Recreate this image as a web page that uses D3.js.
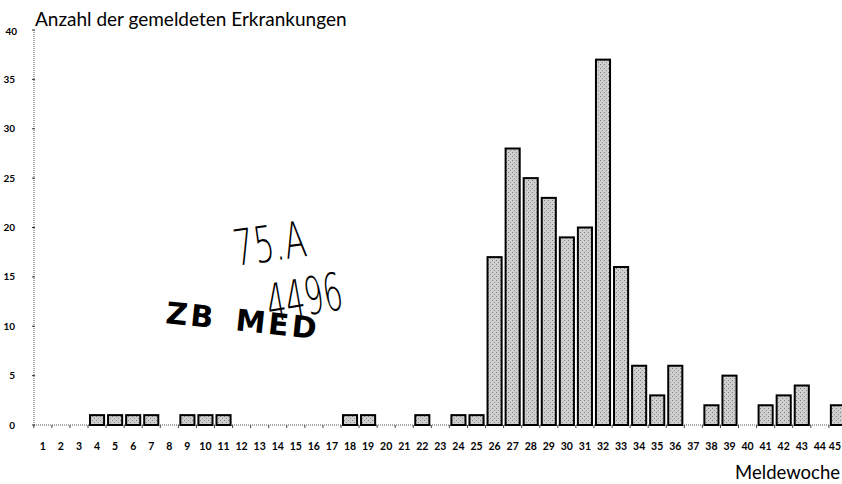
<!DOCTYPE html>
<html><head><meta charset="utf-8">
<script src="https://cdn.jsdelivr.net/npm/d3@7"></script>
<style>body{margin:0;background:#fff}svg{display:block}</style>
</head><body>
<svg id="c" width="842" height="484"></svg>
<script>
const weeks = d3.range(1, 46);
const cases = [0,0,0,1,1,1,1,0,1,1,1,0,0,0,0,0,0,1,1,0,0,1,0,1,1,17,28,25,23,19,20,37,16,6,3,6,0,2,5,0,2,3,4,0,2];
const yTicks = [0,5,10,15,20,25,30,35,40];
const titleText = "Anzahl der gemeldeten Erkrankungen";
const xTitle = "Meldewoche";

const svg = d3.select("#c");
const x0 = 33.8, step = 18.07;
const x = d3.scaleBand().domain(weeks).range([x0, x0 + step*weeks.length]).paddingInner(0.22).paddingOuter(0.11);
const y = d3.scaleLinear().domain([0,40]).range([425,30]);
const font = "Lato, 'Open Sans', sans-serif";

const defs = svg.append("defs");
const pat = defs.append("pattern").attr("id","stip").attr("width",4).attr("height",4).attr("patternUnits","userSpaceOnUse");
pat.append("rect").attr("width",4).attr("height",4).attr("fill","#cfcfcf");
pat.append("rect").attr("x",0).attr("y",0).attr("width",1).attr("height",1).attr("fill","#808080");
pat.append("rect").attr("x",2).attr("y",2).attr("width",1).attr("height",1).attr("fill","#909090");

// axes lines (dotted)
svg.append("line").attr("x1",34).attr("x2",34).attr("y1",y(40)).attr("y2",y(0))
  .attr("stroke","#555").attr("stroke-width",1).attr("stroke-dasharray","1,1");
svg.append("line").attr("x1",34).attr("x2",842).attr("y1",y(0)).attr("y2",y(0))
  .attr("stroke","#555").attr("stroke-width",1).attr("stroke-dasharray","1,1");

// y ticks
const yAxis = svg.append("g");
yTicks.forEach(t=>{
  yAxis.append("line").attr("x1",32).attr("x2",35).attr("y1",y(t)).attr("y2",y(t)).attr("stroke","#333");
  yAxis.append("text").attr("x",t===40?17:15).attr("y",y(t)+(t===40?5:3.5)).attr("text-anchor","end")
    .attr("font-family",font).attr("font-size",10).attr("font-weight","bold").text(t);
});

// x ticks at band boundaries
weeks.forEach(w=>{
  const bx = x(w) - x.step()*x.paddingInner()/2;
  svg.append("line").attr("x1",bx).attr("x2",bx).attr("y1",y(0)).attr("y2",y(0)+3).attr("stroke","#444");
  const cx = x(w)+x.bandwidth()/2;
  const last = w === weeks[weeks.length-1];
  svg.append("text").attr("x",last ? 841 : cx).attr("y",450).attr("text-anchor",last ? "end" : "middle")
    .attr("font-family",font).attr("font-size",10.5).attr("font-weight","bold").text(w);
});

// bars
svg.append("g").selectAll("rect").data(weeks.filter((w,i)=>cases[i]>0)).join("rect")
  .attr("x",w=>x(w)).attr("width",x.bandwidth())
  .attr("y",w=>y(cases[w-1])).attr("height",w=>y(0)-y(cases[w-1]))
  .attr("fill","url(#stip)").attr("stroke","#000").attr("stroke-width",2);

// titles
svg.append("text").attr("x",35).attr("y",26).attr("font-family",font).attr("font-size",19).text(titleText);
svg.append("text").attr("x",840).attr("y",479).attr("text-anchor","end").attr("font-family",font).attr("font-size",18.5).text(xTitle);

// library stamp and handwritten shelfmark
svg.append("text").attr("transform","translate(165,323) rotate(6)").attr("font-family","'DejaVu Sans', sans-serif")
  .attr("font-weight","bold").attr("font-size",30).attr("letter-spacing",3).attr("word-spacing",6).text("ZB MED");
svg.append("text").attr("transform","translate(236,266) rotate(-8) scale(0.8,1.25)").attr("font-family","'DejaVu Sans', sans-serif")
  .attr("font-weight","300").attr("font-size",40).text("75.A");
svg.append("text").attr("transform","translate(270,322) rotate(-10) scale(0.75,1.3)").attr("font-family","'DejaVu Sans', sans-serif")
  .attr("font-weight","300").attr("font-size",40).text("4496");
</script>
</body></html>
